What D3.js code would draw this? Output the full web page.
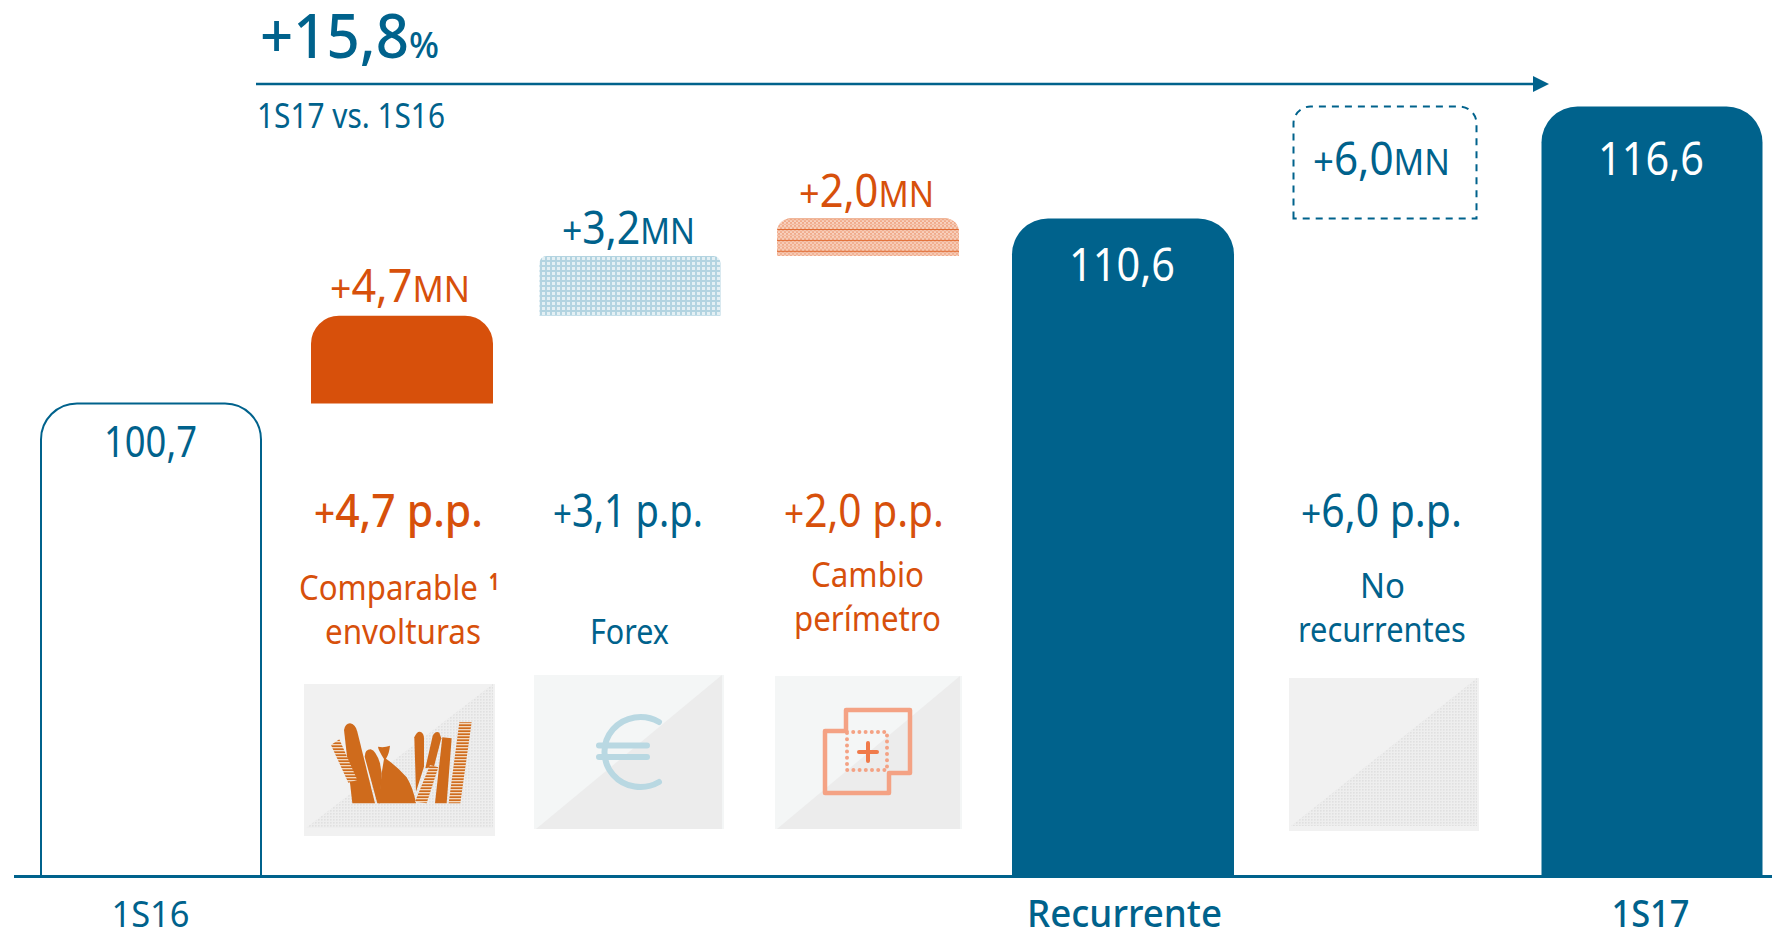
<!DOCTYPE html>
<html><head><meta charset="utf-8">
<script src="https://cdnjs.cloudflare.com/ajax/libs/d3/7.8.5/d3.min.js"></script>
<style>html,body{margin:0;padding:0;background:#fff;overflow:hidden}svg{display:block}text{font-family:"Noto Sans",sans-serif}</style>
</head><body><svg id="c" width="1772" height="931"></svg>
<script>
// ---- data ----
const categories = ["1S16","Comparable envolturas","Forex","Cambio perímetro","Recurrente","No recurrentes","1S17"];
const values = [100.7,4.7,3.2,2.0,110.6,6.0,116.6];
const kinds = ["total","delta","delta","delta","total","delta","total"];
const valueLabels = ["100,7","4,7","3,2","2,0","110,6","6,0","116,6"];
const ppLabels = ["4,7 p.p.","3,1 p.p.","2,0 p.p.","6,0 p.p."];
const axisLabels = ["1S16","Recurrente","1S17"];

// ---- layout ----
const W=1772,H=931,BLUE="#00628c",ORANGE="#d7500b";
const svg=d3.select("#c");
const centers=[151,402,630,868,1123,1385,1652];
const widths=[220,182,181,182,222,183,221];
const x=d3.scaleOrdinal(categories,centers);
const w=d3.scaleOrdinal(categories,widths);
const y=d3.scaleLinear().domain([75.4,116.6]).range([876,106.5]);
const radii=[36,28,7,13,36,17,36];
const styles=[
 {fill:"#fff",stroke:BLUE,sw:2},
 {fill:ORANGE},
 {fill:"url(#grid)"},
 {fill:"url(#lines)"},
 {fill:BLUE},
 {fill:"none",stroke:BLUE,sw:2,dash:"7 6"},
 {fill:BLUE}];

// ---- patterns ----
const defs=svg.append("defs");
const grid=defs.append("pattern").attr("id","grid").attr("width",5).attr("height",5).attr("patternUnits","userSpaceOnUse");
grid.append("rect").attr("width",5).attr("height",5).attr("fill","#e4f0f4");
grid.append("rect").attr("width",2).attr("height",5).attr("fill","#b3d4e1");
grid.append("rect").attr("width",5).attr("height",2).attr("fill","#b3d4e1");
const check=defs.append("pattern").attr("id","check").attr("width",4).attr("height",4).attr("patternUnits","userSpaceOnUse");
check.append("rect").attr("width",4).attr("height",4).attr("fill","#f0aa8a");
check.append("rect").attr("width",2).attr("height",2).attr("fill","#f8d2bf");
check.append("rect").attr("x",2).attr("y",2).attr("width",2).attr("height",2).attr("fill","#f8d2bf");
const lines=defs.append("pattern").attr("id","lines").attr("width",4).attr("height",10.9).attr("y",7).attr("patternUnits","userSpaceOnUse");
lines.append("rect").attr("width",4).attr("height",10.9).attr("fill","url(#check)");
lines.append("rect").attr("y",4).attr("width",4).attr("height",1).attr("fill","#e0662a");
const dots=defs.append("pattern").attr("id","dots").attr("width",3).attr("height",3).attr("patternUnits","userSpaceOnUse");
dots.append("rect").attr("width",3).attr("height",3).attr("fill","#eeeeee");
dots.append("rect").attr("width",1.6).attr("height",1.6).attr("fill","#e0e0e0");
const stripes=defs.append("pattern").attr("id","stripes").attr("width",10).attr("height",9).attr("patternUnits","userSpaceOnUse");
stripes.append("rect").attr("width",10).attr("height",9).attr("fill","#cf6b1c");
stripes.append("rect").attr("width",10).attr("height",4).attr("fill","#f3d9c0");

// ---- bars ----
function topRound(x0,x1,t,b,r){
  const p=d3.path();
  p.moveTo(x0,b);p.lineTo(x0,t+r);p.arcTo(x0,t,x0+r,t,r);p.lineTo(x1-r,t);p.arcTo(x1,t,x1,t+r,r);p.lineTo(x1,b);
  return p;
}
let run=0;
const bars=categories.map((c,i)=>{
  const from=kinds[i]==="total"?y.domain()[0]:run;
  const to=kinds[i]==="total"?values[i]:run+values[i];
  run=to;
  return {c,from,to,i};
});
svg.append("g").selectAll("path").data(bars).join("path")
  .attr("d",d=>{
    const p=topRound(x(d.c)-w(d.c)/2,x(d.c)+w(d.c)/2,y(d.to),y(d.from),radii[d.i]);
    if(styles[d.i].dash) p.closePath();
    return p.toString();
  })
  .attr("fill",d=>styles[d.i].fill)
  .attr("stroke",d=>styles[d.i].stroke||"none")
  .attr("stroke-width",d=>styles[d.i].sw||0)
  .attr("stroke-dasharray",d=>styles[d.i].dash||null);

// baseline & trend arrow
svg.append("line").attr("x1",14).attr("x2",W).attr("y1",876.5).attr("y2",876.5).attr("stroke",BLUE).attr("stroke-width",2.8);
svg.append("line").attr("x1",256).attr("x2",1535).attr("y1",84).attr("y2",84).attr("stroke",BLUE).attr("stroke-width",2.5);
svg.append("path").attr("d","M1533,76L1549,84L1533,92Z").attr("fill",BLUE);

// ---- text helper: parts fitted to a measured width ----
function label(parts,x0,x1,base,fill,weight){
  const t=svg.append("text").attr("fill",fill).attr("font-weight",weight||400);
  parts.forEach(p=>t.append("tspan").attr("font-size",p[1]).text(p[0]));
  const len=t.node().getComputedTextLength();
  t.attr("transform",`translate(${x0},${base}) scale(${(x1-x0)/len},1)`);
  return t;
}
label([["+15,8",61],["%",37]],260,439,58,BLUE,500);
label([["1S17 vs. 1S16",34]],257,445,128,BLUE);

label([[valueLabels[0],43]],104,197,457,BLUE);
label([["+",39],[valueLabels[1],45],["MN",36]],330,470,302,ORANGE);
label([["+",39],[valueLabels[2],45],["MN",36]],562,695,244,BLUE);
label([["+",39],[valueLabels[3],45],["MN",36]],799,934,207,ORANGE);
label([[valueLabels[4],45]],1069,1175,281,"#fff");
label([["+",39],[valueLabels[5],45],["MN",36]],1313,1450,175,BLUE);
label([[valueLabels[6],45]],1598,1704,175,"#fff");

label([["+",39],[ppLabels[0],45]],314,483,527,ORANGE,500);
label([["+",39],[ppLabels[1],45]],553,703,527,BLUE);
label([["+",39],[ppLabels[2],45]],784,944,527,ORANGE);
label([["+",39],[ppLabels[3],45]],1301,1462,527,BLUE);

label([["Comparable",34]],299,478,600,ORANGE);
label([["1",24]],489,499,590,ORANGE,700);
label([["envolturas",34]],325,481,644,ORANGE);
label([["Forex",34]],590,669,644,BLUE);
label([["Cambio",34]],811,924,587,ORANGE);
label([["perímetro",34]],794,941,631,ORANGE);
label([["No",34]],1360,1405,598,BLUE);
label([["recurrentes",34]],1298,1466,642,BLUE);

// axis labels
const axisG=svg.append("g").attr("transform","translate(0,876)")
  .call(d3.axisBottom(x).tickValues(axisLabels).tickSize(0).tickPadding(0));
axisG.select(".domain").remove();
axisG.selectAll("text").attr("fill",BLUE).attr("dy",0).attr("y",51)
  .attr("font-size",d=>d==="1S16"?36:38)
  .attr("font-weight",d=>d==="1S16"?400:500).attr("font-family",'"Noto Sans",sans-serif')
  .each(function(d){
    const target={"1S16":78,"Recurrente":195,"1S17":78}[d];
    const shift={"1S16":-1,"Recurrente":1,"1S17":-2}[d];
    const len=this.getComputedTextLength();
    d3.select(this).attr("x",0).attr("transform",`translate(${shift},0) scale(${target/len},1)`);
  });

// ---- icon tiles ----
function tile(x0,y0,x1,y1,light,dark,by){
  const g=svg.append("g");
  g.append("rect").attr("x",x0).attr("y",y0).attr("width",x1-x0).attr("height",y1-y0).attr("fill",light);
  g.append("path").attr("d",`M${x0+2},${by}L${x1-2},${y0}L${x1-2},${by}Z`).attr("fill",dark);
}
tile(304,684,495,836,"#f1f1f1","url(#dots)",828);
tile(534,675,724,829,"#f4f6f6","#ececec",829);
tile(775,676,962,829,"#f4f6f6","#ececec",829);
tile(1289,678,1479,831,"#f1f1f1","url(#dots)",826);

// icon 1: bags (drawn in a 3x local frame)
const ic=svg.append("g").attr("transform","translate(280,660) scale(0.3333)");
const solid=["M217,430L192,210Q196,190 210,190Q226,192 232,215L285,430Z",
 "M292,430L254,290Q255,268 272,268Q288,272 300,310L305,340L300,430Z",
 "M296,430L305,340L312,297Q295,270 294,260Q312,264 330,257Q328,280 318,296Q350,318 380,352Q400,385 408,430Z",
 "M408,395L403,232Q410,214 420,215Q432,218 432,235L432,320Z",
 "M436,325L458,228Q466,212 478,218L484,235L462,320Z",
 "M487,232L515,235L500,430L465,430Z"];
ic.selectAll("path.s").data(solid).join("path").attr("class","s").attr("d",d=>d).attr("fill","#cf6b1c");
const striped=["M153,255L178,238L232,360L205,368Z","M450,315L475,322L440,430L405,425Z","M538,187L575,187L541,430L506,430Z"];
ic.selectAll("path.t").data(striped).join("path").attr("class","t").attr("d",d=>d).attr("fill","url(#stripes)");

// icon 2: euro
const eu=svg.append("g").attr("fill","none").attr("stroke","#b9d8e2").attr("stroke-linecap","round");
eu.append("path").attr("d","M659,722A36,35 0 1 0 659,782").attr("stroke-width",6);
eu.append("path").attr("d","M599,745.5H647M599,757H647").attr("stroke-width",6);

// icon 3: overlapping squares
const sq=svg.append("g").attr("fill","none").attr("stroke","#f4a284");
sq.append("path").attr("stroke-width",4.5).attr("stroke-linejoin","round")
  .attr("d","M846,731V710H910V773H889V793H825V731Z");
sq.append("rect").attr("x",847).attr("y",732).attr("width",40).attr("height",38)
  .attr("stroke-width",4).attr("stroke-dasharray","0 6.2").attr("stroke-linecap","round");
sq.append("path").attr("d","M859,752H877M868,743V761").attr("stroke","#f07a4a").attr("stroke-width",4).attr("stroke-linecap","round");
</script></body></html>
